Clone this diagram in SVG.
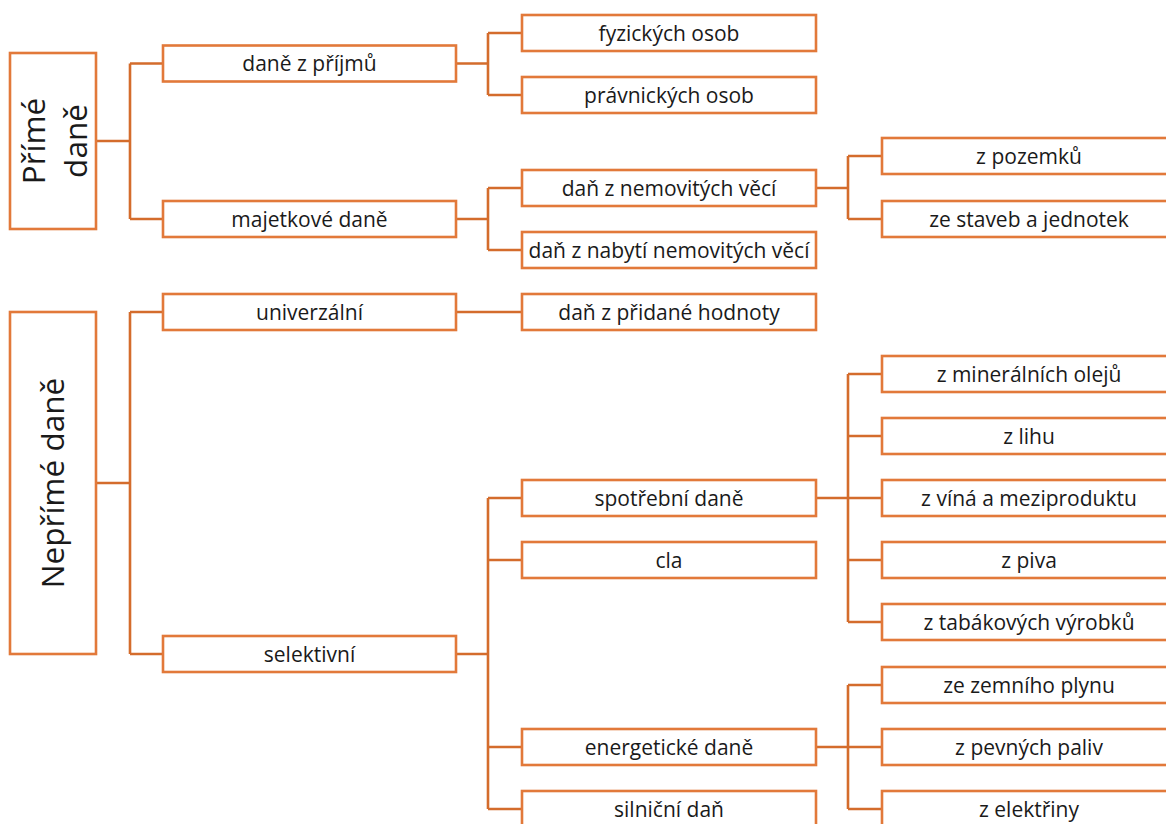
<svg xmlns="http://www.w3.org/2000/svg" width="1166" height="824" viewBox="0 0 1166 824">
<style>
.b{fill:#fff;stroke:#E2793A;stroke-width:2.6}
.t{font-family:"Open Sans","Noto Sans",sans-serif;font-size:21px;fill:#1a1a1a;text-anchor:middle}
.big{font-family:"Open Sans","Noto Sans",sans-serif;font-size:31.5px;fill:#1a1a1a;text-anchor:middle}
.c{fill:none;stroke:#D46C2C;stroke-width:2.6}
</style>
<rect width="1166" height="824" fill="#fff"/>
<g id="connectors" class="c">
<path d="M96 141H130M130 63.5V219M130 63.5H163M130 219H163"/>
<path d="M456 63.5H488M488 33V95M488 33H522M488 95H522"/>
<path d="M456 219H488M488 188V250M488 188H522M488 250H522"/>
<path d="M816 188H848M848 156V219M848 156H882M848 219H882"/>
<path d="M96 483H130M130 312V654M130 312H163M130 654H163"/>
<path d="M456 312H522"/>
<path d="M456 654H488M488 498V809M488 498H522M488 560H522M488 747H522M488 809H522"/>
<path d="M816 498H848M848 374V622M848 374H882M848 436H882M848 498H882M848 560H882M848 622H882"/>
<path d="M816 747H848M848 685V809M848 685H882M848 747H882M848 809H882"/>
</g>
<g id="prime">
<rect class="b" x="10" y="53" width="86" height="176"/>
<text class="big" transform="translate(53,141) rotate(-90)"><tspan x="0" y="-8">Přímé</tspan><tspan x="0" y="34">daně</tspan></text>
</g>
<g id="neprime">
<rect class="b" x="10" y="312" width="86" height="342"/>
<text class="big" transform="translate(53,483) rotate(-90)" y="11">Nepřímé daně</text>
</g>
<g id="prijmy"><rect class="b" x="163" y="45.5" width="293" height="36"/><text class="t" x="309.5" y="71">daně z příjmů</text></g>
<g id="majetkove"><rect class="b" x="163" y="201" width="293" height="36"/><text class="t" x="309.5" y="226.5">majetkové daně</text></g>
<g id="univerzalni"><rect class="b" x="163" y="294" width="293" height="36"/><text class="t" x="309.5" y="319.5">univerzální</text></g>
<g id="selektivni"><rect class="b" x="163" y="636" width="293" height="36"/><text class="t" x="309.5" y="661.5">selektivní</text></g>
<g id="fyzickych"><rect class="b" x="522" y="15" width="294" height="36"/><text class="t" x="669" y="40.5">fyzických osob</text></g>
<g id="pravnickych"><rect class="b" x="522" y="77" width="294" height="36"/><text class="t" x="669" y="102.5">právnických osob</text></g>
<g id="nemovitych"><rect class="b" x="522" y="170" width="294" height="36"/><text class="t" x="669" y="195.5">daň z nemovitých věcí</text></g>
<g id="nabyti"><rect class="b" x="522" y="232" width="294" height="36"/><text class="t" x="669" y="257.5">daň z nabytí nemovitých věcí</text></g>
<g id="dph"><rect class="b" x="522" y="294" width="294" height="36"/><text class="t" x="669" y="319.5">daň z přidané hodnoty</text></g>
<g id="spotrebni"><rect class="b" x="522" y="480" width="294" height="36"/><text class="t" x="669" y="505.5">spotřební daně</text></g>
<g id="cla"><rect class="b" x="522" y="542" width="294" height="36"/><text class="t" x="669" y="567.5">cla</text></g>
<g id="energeticke"><rect class="b" x="522" y="729" width="294" height="36"/><text class="t" x="669" y="754.5">energetické daně</text></g>
<g id="silnicni"><rect class="b" x="522" y="791" width="294" height="36"/><text class="t" x="669" y="816.5">silniční daň</text></g>
<g id="pozemku"><rect class="b" x="882" y="138" width="294" height="36"/><text class="t" x="1029" y="163.5">z pozemků</text></g>
<g id="staveb"><rect class="b" x="882" y="201" width="294" height="36"/><text class="t" x="1029" y="226.5">ze staveb a jednotek</text></g>
<g id="oleje"><rect class="b" x="882" y="356" width="294" height="36"/><text class="t" x="1029" y="381.5">z minerálních olejů</text></g>
<g id="lihu"><rect class="b" x="882" y="418" width="294" height="36"/><text class="t" x="1029" y="443.5">z lihu</text></g>
<g id="vina"><rect class="b" x="882" y="480" width="294" height="36"/><text class="t" x="1029" y="505.5">z víná a meziproduktu</text></g>
<g id="piva"><rect class="b" x="882" y="542" width="294" height="36"/><text class="t" x="1029" y="567.5">z piva</text></g>
<g id="tabak"><rect class="b" x="882" y="604" width="294" height="36"/><text class="t" x="1029" y="629.5">z tabákových výrobků</text></g>
<g id="plyn"><rect class="b" x="882" y="667" width="294" height="36"/><text class="t" x="1029" y="692.5">ze zemního plynu</text></g>
<g id="paliva"><rect class="b" x="882" y="729" width="294" height="36"/><text class="t" x="1029" y="754.5">z pevných paliv</text></g>
<g id="elektrina"><rect class="b" x="882" y="791" width="294" height="36"/><text class="t" x="1029" y="816.5">z elektřiny</text></g>
</svg>
